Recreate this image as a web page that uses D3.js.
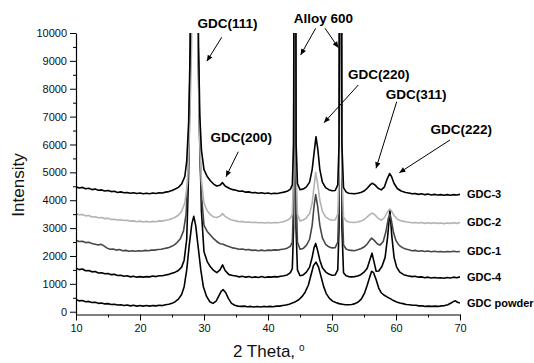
<!DOCTYPE html>
<html>
<head>
<meta charset="utf-8">
<script src="https://cdn.jsdelivr.net/npm/d3@7"></script>
<style>
  body { margin: 0; background: #fff; }
  svg { display: block; font-family: Arial, "Liberation Sans", sans-serif; }
</style>
</head>
<body>
<div id="figure"></div>
<script>
// XRD patterns, [2theta, intensity]
const gdc3 = [[10,4480],[10.5,4440],[11,4460],[11.5,4410],[12,4430],[12.5,4380],[13,4400],[13.5,4360],[14,4370],[14.5,4330],[15,4350],[15.5,4310],[16,4320],[16.5,4280],[17,4300],[17.5,4270],[18,4280],[18.5,4250],[19,4270],[19.5,4240],[20,4260],[20.5,4230],[21,4250],[21.5,4230],[22,4260],[22.5,4240],[23,4270],[23.5,4260],[24,4290],[24.5,4310],[25,4350],[25.5,4400],[26,4460],[26.5,4580],[27,4850],[27.3,5400],[27.6,6800],[27.85,9500],[28.1,16000],[28.5,30000],[28.9,16000],[29.15,9500],[29.35,7000],[29.6,5800],[30,5100],[30.5,4850],[31,4700],[31.5,4580],[32,4510],[32.5,4540],[32.9,4630],[33.3,4510],[34,4420],[34.5,4380],[35,4360],[35.5,4320],[36,4330],[36.5,4290],[37,4300],[37.5,4270],[38,4280],[38.5,4250],[39,4270],[39.5,4240],[40,4260],[40.5,4230],[41,4250],[41.5,4240],[42,4270],[42.5,4290],[43,4320],[43.5,4400],[43.8,4550],[44.0,6000],[44.08,15000],[44.2,40000],[44.32,15000],[44.4,6000],[44.6,4600],[45,4380],[45.5,4400],[46,4480],[46.5,4650],[46.9,5100],[47.2,5700],[47.5,6280],[47.8,5800],[48.1,5100],[48.5,4650],[49,4450],[49.5,4380],[50,4340],[50.5,4350],[50.9,4550],[51.1,6000],[51.2,15000],[51.33,40000],[51.45,15000],[51.55,6000],[51.8,4450],[52.2,4300],[52.6,4250],[53,4240],[53.5,4230],[54,4250],[54.5,4280],[55,4330],[55.5,4430],[56,4560],[56.3,4610],[56.7,4550],[57.2,4430],[57.7,4370],[58.2,4480],[58.6,4750],[59,4960],[59.3,4850],[59.7,4600],[60.2,4420],[60.8,4330],[61.5,4280],[62,4260],[62.5,4230],[63,4240],[63.5,4210],[64,4230],[64.5,4200],[65,4220],[65.5,4190],[66,4210],[66.5,4190],[67,4200],[67.5,4180],[68,4200],[68.5,4180],[69,4200],[69.5,4190],[70,4210]]

const gdc2 = [[10,3520],[10.5,3480],[11,3490],[11.5,3440],[12,3450],[12.5,3400],[13,3410],[13.5,3370],[14,3380],[14.5,3340],[15,3350],[15.5,3310],[16,3320],[16.5,3290],[17,3300],[17.5,3270],[18,3280],[18.5,3250],[19,3260],[19.5,3230],[20,3250],[20.5,3220],[21,3240],[21.5,3220],[22,3240],[22.5,3230],[23,3260],[23.5,3250],[24,3280],[24.5,3300],[25,3340],[25.5,3390],[26,3460],[26.5,3600],[27,3900],[27.4,4600],[27.75,6500],[28.05,9500],[28.25,16000],[28.55,30000],[28.85,16000],[29.05,9500],[29.3,6300],[29.6,4700],[30,3900],[30.5,3620],[31,3480],[31.5,3400],[32,3380],[32.5,3430],[32.9,3520],[33.3,3420],[34,3320],[34.5,3280],[35,3260],[35.5,3230],[36,3240],[36.5,3210],[37,3220],[37.5,3200],[38,3210],[38.5,3190],[39,3200],[39.5,3180],[40,3200],[40.5,3180],[41,3200],[41.5,3190],[42,3210],[42.5,3240],[43,3280],[43.5,3360],[43.8,3500],[44.0,5000],[44.1,15000],[44.22,40000],[44.34,15000],[44.42,5000],[44.6,3500],[45,3260],[45.5,3290],[46,3370],[46.5,3520],[46.9,3900],[47.2,4500],[47.45,5000],[47.75,4600],[48.1,4000],[48.5,3600],[49,3400],[49.5,3320],[50,3280],[50.5,3290],[50.9,3500],[51.1,5000],[51.22,15000],[51.35,40000],[51.47,15000],[51.57,5000],[51.8,3400],[52.2,3260],[52.6,3220],[53,3210],[53.5,3200],[54,3220],[54.5,3250],[55,3300],[55.5,3400],[56,3500],[56.3,3540],[56.7,3480],[57.2,3350],[57.7,3280],[58.2,3380],[58.6,3560],[59,3680],[59.3,3620],[59.7,3450],[60.2,3320],[60.8,3260],[61.5,3230],[62,3210],[62.5,3190],[63,3200],[63.5,3180],[64,3200],[64.5,3170],[65,3190],[65.5,3170],[66,3190],[66.5,3170],[67,3180],[67.5,3160],[68,3180],[68.5,3170],[69,3190],[69.5,3170],[70,3200]]

const gdc1 = [[10,2560],[10.5,2520],[11,2530],[11.5,2480],[12,2490],[12.5,2450],[13,2420],[13.5,2390],[13.9,2420],[14.3,2370],[14.8,2290],[15.3,2240],[15.8,2250],[16.3,2210],[16.8,2230],[17.3,2190],[17.8,2200],[18.3,2170],[18.8,2190],[19.3,2170],[19.8,2190],[20.3,2180],[20.8,2200],[21.3,2190],[21.8,2210],[22.3,2210],[22.8,2230],[23.3,2240],[23.8,2270],[24.3,2290],[24.8,2330],[25.3,2390],[25.8,2480],[26.3,2620],[26.8,2900],[27.2,3500],[27.55,5200],[27.9,9000],[28.15,16000],[28.5,30000],[28.85,16000],[29.1,9000],[29.35,5800],[29.6,4200],[30,3100],[30.5,2880],[31,2750],[31.5,2620],[32,2520],[32.5,2440],[33,2420],[33.5,2370],[34,2330],[34.5,2290],[35,2270],[35.5,2240],[36,2250],[36.5,2220],[37,2230],[37.5,2200],[38,2210],[38.5,2190],[39,2210],[39.5,2190],[40,2210],[40.5,2200],[41,2220],[41.5,2210],[42,2230],[42.5,2250],[43,2280],[43.5,2350],[43.8,2500],[44.0,4000],[44.1,15000],[44.22,40000],[44.34,15000],[44.42,4000],[44.6,2500],[45,2240],[45.5,2270],[46,2380],[46.5,2600],[46.9,3100],[47.2,3800],[47.45,4200],[47.75,3800],[48.1,3100],[48.5,2650],[49,2420],[49.5,2330],[50,2290],[50.5,2300],[50.9,2500],[51.1,4000],[51.22,15000],[51.35,40000],[51.47,15000],[51.57,4000],[51.8,2400],[52.2,2250],[52.6,2210],[53,2200],[53.5,2190],[54,2220],[54.5,2260],[55,2320],[55.5,2430],[55.9,2560],[56.2,2640],[56.6,2560],[57.1,2430],[57.5,2390],[58,2520],[58.4,2850],[58.8,3350],[59.05,3480],[59.3,3250],[59.6,2850],[60,2550],[60.5,2380],[61,2300],[61.5,2250],[62,2220],[62.5,2190],[63,2200],[63.5,2170],[64,2190],[64.5,2160],[65,2180],[65.5,2150],[66,2170],[66.5,2150],[67,2160],[67.5,2140],[68,2160],[68.5,2150],[69,2170],[69.5,2150],[70,2160]]

const gdc4 = [[10,1560],[10.5,1510],[11,1530],[11.5,1470],[12,1480],[12.5,1430],[13,1440],[13.5,1390],[14,1400],[14.5,1360],[15,1370],[15.5,1330],[16,1340],[16.5,1300],[17,1310],[17.5,1270],[18,1290],[18.5,1250],[19,1270],[19.5,1240],[20,1260],[20.5,1240],[21,1260],[21.5,1250],[22,1280],[22.5,1260],[23,1290],[23.5,1290],[24,1320],[24.5,1340],[25,1380],[25.5,1420],[26,1480],[26.5,1600],[26.9,1850],[27.3,2600],[27.6,5000],[27.85,9500],[28.1,16000],[28.45,30000],[28.85,16000],[29.1,9500],[29.35,6000],[29.6,3600],[30,2150],[30.5,1800],[31,1610],[31.5,1480],[32,1400],[32.5,1500],[32.9,1680],[33.3,1480],[33.9,1330],[34.5,1300],[35,1280],[35.5,1250],[36,1270],[36.5,1240],[37,1260],[37.5,1230],[38,1250],[38.5,1230],[39,1260],[39.5,1230],[40,1250],[40.5,1240],[41,1260],[41.5,1250],[42,1270],[42.5,1290],[43,1320],[43.5,1400],[43.8,1550],[44.0,3000],[44.07,15000],[44.19,40000],[44.31,15000],[44.38,3000],[44.6,1500],[45,1290],[45.5,1320],[46,1420],[46.5,1600],[46.9,1950],[47.2,2300],[47.45,2450],[47.75,2200],[48.1,1850],[48.5,1580],[49,1430],[49.5,1350],[50,1310],[50.5,1320],[50.9,1500],[51.1,3000],[51.2,15000],[51.33,40000],[51.45,15000],[51.55,3000],[51.8,1400],[52.2,1290],[52.6,1260],[53,1250],[53.5,1260],[54,1280],[54.5,1330],[55,1420],[55.5,1560],[55.9,1850],[56.25,2100],[56.6,1750],[56.9,1450],[57.3,1460],[57.8,1620],[58.3,1950],[58.7,2700],[59.05,3650],[59.35,2700],[59.7,1950],[60.1,1600],[60.6,1420],[61.2,1330],[61.8,1290],[62.5,1260],[63,1270],[63.5,1240],[64,1250],[64.5,1220],[65,1240],[65.5,1210],[66,1230],[66.5,1210],[67,1220],[67.5,1200],[68,1230],[68.5,1210],[69,1240],[69.5,1220],[70,1250]]

const powder = [[10,430],[10.5,390],[11,400],[11.5,360],[12,370],[12.5,330],[13,340],[13.5,300],[14,310],[14.5,280],[15,290],[15.5,260],[16,270],[16.5,240],[17,250],[17.5,220],[18,240],[18.5,210],[19,230],[19.5,200],[20,220],[20.5,200],[21,220],[21.5,200],[22,220],[22.5,210],[23,230],[23.5,220],[24,250],[24.5,270],[25,300],[25.5,360],[26,450],[26.5,620],[26.9,900],[27.3,1500],[27.7,2400],[28.1,3150],[28.4,3420],[28.7,3100],[29.1,2300],[29.5,1500],[29.9,900],[30.4,550],[30.9,360],[31.4,300],[31.9,380],[32.3,560],[32.7,740],[33,790],[33.4,680],[33.8,480],[34.3,300],[34.8,230],[35.3,200],[35.8,190],[36.3,200],[36.8,180],[37.3,190],[37.8,170],[38.3,190],[38.8,170],[39.3,190],[39.8,180],[40.3,190],[40.8,180],[41.3,200],[41.8,200],[42.3,220],[42.8,240],[43.3,270],[43.8,310],[44.3,360],[44.8,430],[45.3,540],[45.8,700],[46.3,950],[46.7,1300],[47.1,1650],[47.5,1780],[47.9,1600],[48.3,1250],[48.7,900],[49.1,650],[49.6,480],[50.1,380],[50.6,330],[51.1,290],[51.6,270],[52.1,250],[52.6,250],[53.1,260],[53.6,290],[54.1,350],[54.6,460],[55.1,680],[55.5,950],[55.9,1250],[56.2,1450],[56.5,1400],[56.9,1150],[57.3,850],[57.7,680],[58.1,600],[58.6,530],[59.1,470],[59.6,400],[60.1,350],[60.6,310],[61.1,290],[61.6,260],[62.1,250],[62.6,230],[63.1,230],[63.6,210],[64.1,210],[64.6,190],[65.1,200],[65.6,190],[66.1,200],[66.6,190],[67.1,210],[67.6,220],[68.1,250],[68.6,310],[69,370],[69.3,390],[69.6,340],[70,310]]

const seriesNames = ['GDC powder', 'GDC-4', 'GDC-1', 'GDC-2', 'GDC-3']
const seriesData = [powder, gdc4, gdc1, gdc2, gdc3]
const seriesColors = ['#000', '#000', '#474747', '#b3b3b3', '#000']

const xTicks = [10, 20, 30, 40, 50, 60, 70]
const xMinor = [15, 25, 35, 45, 55, 65]
const yTicks = [0, 1000, 2000, 3000, 4000, 5000, 6000, 7000, 8000, 9000, 10000]
const yMinor = [500, 1500, 2500, 3500, 4500, 5500, 6500, 7500, 8500, 9500]

// peak labels: text position and arrow(s) in [2theta, intensity]
const peakLabels = ['GDC(111)', 'Alloy 600', 'GDC(200)', 'GDC(220)', 'GDC(311)', 'GDC(222)']
const peakText = [[33.67, 10180], [48.67, 10360], [35.81, 6100], [57.3, 8340], [63.15, 7620], [70.2, 6365]]
const peakArrows = [
  [[[32.77, 9846], [30.45, 8990]]],
  [[[47.45, 10169], [45.1, 9210]], [[48.91, 10169], [51.0, 9473]]],
  [[[35.36, 5741], [33.44, 4844]]],
  [[[54.11, 8134], [48.75, 6781]]],
  [[[60.11, 7535], [56.88, 5145]]],
  [[[68.44, 6161], [60.52, 4987]]]
]

const width = 534, height = 363

const svg = d3.select('#figure').append('svg').attr('width', width).attr('height', height)

const x = d3.scaleLinear().domain([10, 70]).range([76, 460])
const y = d3.scaleLinear().domain([-100, 10000]).range([314.5, 33])

svg.append('defs').append('clipPath').attr('id', 'plot')
  .append('rect').attr('x', x(10)).attr('y', y(10000)).attr('width', x(70) - x(10)).attr('height', y(-100) - y(10000))

svg.select('defs').append('marker').attr('id', 'arrow')
  .attr('viewBox', '0 0 10 10').attr('refX', 10).attr('refY', 5)
  .attr('markerWidth', 7).attr('markerHeight', 6).attr('markerUnits', 'userSpaceOnUse')
  .attr('orient', 'auto')
  .append('path').attr('d', 'M0,0.5 L10,5 L0,9.5 z').attr('fill', '#000')

/**
 * lines
 */
const line = d3.line().x(d => x(d[0])).y(d => y(d[1]))

const lines = svg.append('g').attr('clip-path', 'url(#plot)')
seriesData.forEach((data, i) => {
  lines.append('path').datum(data).attr('d', line)
    .attr('fill', 'none').attr('stroke', seriesColors[i])
    .attr('stroke-width', 1.6).attr('stroke-linejoin', 'round')
})

/**
 * axes
 */
svg.append('g').attr('transform', `translate(0,${y(-100)})`)
  .call(d3.axisBottom(x).tickValues(xTicks).tickSize(6).tickSizeOuter(0).tickPadding(4).tickFormat(d3.format('d')))
svg.append('g').attr('transform', `translate(0,${y(-100)})`)
  .call(d3.axisBottom(x).tickValues(xMinor).tickSize(3).tickFormat(''))
  .select('.domain').remove()

svg.append('g').attr('transform', `translate(${x(10)},0)`)
  .call(d3.axisLeft(y).tickValues(yTicks).tickSize(6).tickSizeOuter(0).tickPadding(3).tickFormat(d3.format('d')))
svg.append('g').attr('transform', `translate(${x(10)},0)`)
  .call(d3.axisLeft(y).tickValues(yMinor).tickSize(3).tickFormat(''))
  .select('.domain').remove()

svg.selectAll('.tick text').attr('font-size', 11).attr('font-family', 'Arial, "Liberation Sans", sans-serif').attr('fill', '#111')
svg.selectAll('.domain').attr('stroke', '#000').attr('stroke-width', 1.2)

svg.append('text').attr('transform', 'translate(24,185) rotate(-90)')
  .attr('text-anchor', 'middle').attr('font-size', 17).attr('fill', '#111').text('Intensity')

const xTitle = svg.append('text').attr('x', 233).attr('y', 357).attr('font-size', 17).attr('fill', '#111')
xTitle.append('tspan').text('2 Theta,')
xTitle.append('tspan').attr('dx', 4).attr('dy', -6).attr('font-size', 10).text('o')

/**
 * series names at right end
 */
seriesData.forEach((data, i) => {
  svg.append('text').attr('x', 467).attr('y', y(data[data.length - 1][1]))
    .attr('dy', '0.35em').attr('font-size', 11).attr('font-weight', 'bold')
    .text(seriesNames[i])
})

/**
 * peak annotations
 */
peakLabels.forEach((label, i) => {
  svg.append('text').attr('x', x(peakText[i][0])).attr('y', y(peakText[i][1]))
    .attr('text-anchor', 'middle').attr('font-size', 13.5).attr('font-weight', 'bold')
    .text(label)
  peakArrows[i].forEach(a => {
    svg.append('line')
      .attr('x1', x(a[0][0])).attr('y1', y(a[0][1]))
      .attr('x2', x(a[1][0])).attr('y2', y(a[1][1]))
      .attr('stroke', '#000').attr('stroke-width', 1)
      .attr('marker-end', 'url(#arrow)')
  })
})
</script>
</body>
</html>
